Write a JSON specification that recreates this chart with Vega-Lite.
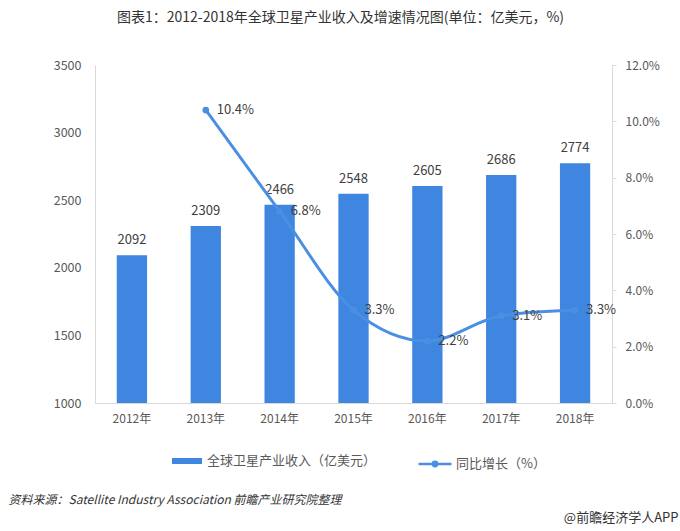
{
  "$schema": "https://vega.github.io/schema/vega-lite/v6.json",
  "autosize": {"type": "none"},
  "width": 517,
  "height": 338,
  "padding": {"left": 95, "top": 65, "right": 68, "bottom": 128},
  "background": "white",
  "config": {
    "font": "Noto Sans CJK SC",
    "view": {"stroke": null},
    "axis": {"grid": false, "labelColor": "#595959", "labelFontSize": 12, "domainColor": "#D9D9D9", "tickColor": "#D9D9D9"}
  },
  "title": {
    "text": "图表1：2012-2018年全球卫星产业收入及增速情况图(单位：亿美元，%)",
    "fontSize": 14,
    "fontWeight": "normal",
    "color": "#333333",
    "anchor": "middle",
    "frame": "group",
    "dx": -13,
    "offset": 34
  },
  "data": {
    "values": [
      {"year": "2012年", "revenue": 2092, "growth": null},
      {"year": "2013年", "revenue": 2309, "growth": 0.104},
      {"year": "2014年", "revenue": 2466, "growth": 0.068},
      {"year": "2015年", "revenue": 2548, "growth": 0.033},
      {"year": "2016年", "revenue": 2605, "growth": 0.022},
      {"year": "2017年", "revenue": 2686, "growth": 0.031},
      {"year": "2018年", "revenue": 2774, "growth": 0.033}
    ]
  },
  "encoding": {
    "x": {
      "field": "year",
      "type": "nominal",
      "scale": {"paddingInner": 0.59, "paddingOuter": 0.295},
      "axis": {
        "labelAngle": 0,
        "ticks": false,
        "labelPadding": 10,
        "title": "资料来源：Satellite Industry Association 前瞻产业研究院整理",
        "titleX": -87,
        "titleY": 96,
        "titleAlign": "left",
        "titleBaseline": "middle",
        "titleAnchor": null,
        "titleFontSize": 12,
        "titleFontWeight": "normal",
        "titleFontStyle": "italic",
        "titleColor": "#333333"
      }
    }
  },
  "layer": [
    {
      "layer": [
        {
          "mark": {"type": "bar"},
          "encoding": {
            "y": {
              "field": "revenue",
              "type": "quantitative",
              "scale": {"domain": [1000, 3500], "nice": false},
              "axis": {"values": [1000, 1500, 2000, 2500, 3000, 3500], "format": "d", "ticks": false, "labelPadding": 14, "title": null, "labelFontSize": 12.5}
            },
            "y2": {"datum": 1000},
            "fill": {
              "datum": "全球卫星产业收入（亿美元）",
              "scale": {"range": ["#3E86DF"]},
              "legend": {
                "orient": "none",
                "legendX": 77,
                "legendY": 381,
                "title": null,
                "symbolType": "M-1,-0.2H1V0.2H-1Z",
                "symbolSize": 900,
                "symbolStrokeWidth": 0,
                "labelFontSize": 13,
                "labelLimit": 0,
                "labelColor": "#595959",
                "labelOffset": 5
              }
            }
          }
        },
        {
          "mark": {"type": "text", "baseline": "bottom", "dy": -8, "fontSize": 13, "color": "#404040"},
          "encoding": {
            "y": {"field": "revenue", "type": "quantitative"},
            "text": {"field": "revenue", "type": "quantitative", "format": "d"}
          }
        }
      ]
    },
    {
      "transform": [{"filter": "datum.growth != null"}],
      "layer": [
        {
          "mark": {"type": "line", "interpolate": "monotone", "strokeWidth": 3},
          "encoding": {
            "y": {
              "field": "growth",
              "type": "quantitative",
              "scale": {"domain": [0, 0.12], "nice": false},
              "axis": {"orient": "right", "format": ".1%", "values": [0, 0.02, 0.04, 0.06, 0.08, 0.1, 0.12], "tickSize": 4, "labelPadding": 9, "domainColor": "#D9D9D9",
                "title": "@前瞻经济学人APP",
                "titleAngle": 0,
                "titleX": 66,
                "titleY": 452,
                "titleAlign": "right",
                "titleBaseline": "middle",
                "titleAnchor": null,
                "titleFontSize": 13,
                "titleFontWeight": "normal",
                "titleColor": "#333333"
              }
            },
            "stroke": {
              "datum": "同比增长（%）",
              "scale": {"range": ["#4A8FE4"]},
              "legend": {
                "orient": "none",
                "legendX": 322,
                "legendY": 381,
                "title": null,
                "symbolType": "M-1,0H1M-0.13,0A0.13,0.13,0,1,0,0.13,0A0.13,0.13,0,1,0,-0.13,0Z",
                "symbolSize": 1089,
                "symbolStrokeWidth": 2.5,
                "symbolFillColor": "#4A8FE4",
                "labelFontSize": 13,
                "labelLimit": 0,
                "labelColor": "#595959",
                "labelOffset": 3
              }
            }
          }
        },
        {
          "mark": {"type": "point", "filled": true, "size": 45, "color": "#4A8FE4", "opacity": 1},
          "encoding": {"y": {"field": "growth", "type": "quantitative"}}
        },
        {
          "mark": {"type": "text", "align": "left", "baseline": "middle", "dx": 11, "fontSize": 13, "color": "#404040"},
          "encoding": {
            "y": {"field": "growth", "type": "quantitative"},
            "text": {"field": "growth", "type": "quantitative", "format": ".1%"}
          }
        }
      ]
    }
  ],
  "resolve": {"scale": {"y": "independent"}}
}
